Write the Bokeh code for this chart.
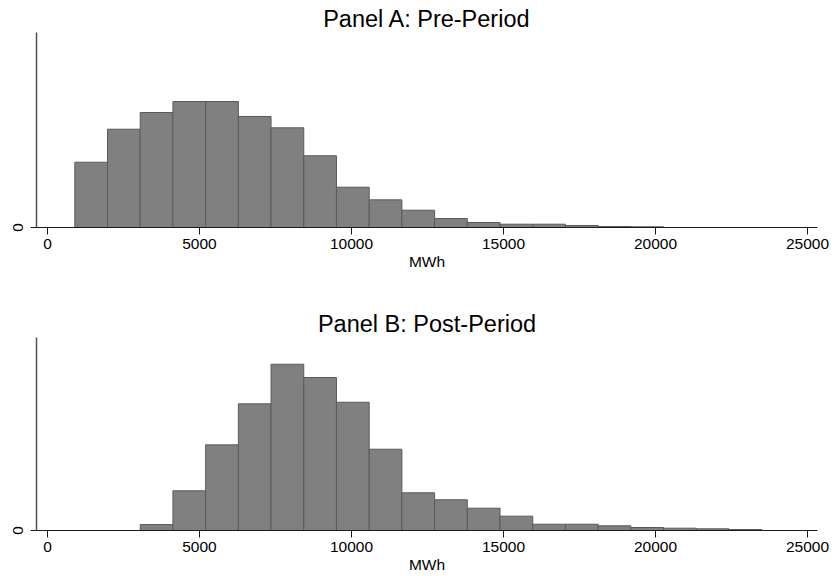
from bokeh.plotting import figure
from bokeh.models import Range1d, FixedTicker
from bokeh.layouts import column
from bokeh.embed import file_html
from bokeh.resources import INLINE

# ---- data ----
bin_width = 1076          # MWh per bin
pre_start = 898           # left edge of first Pre-Period bin
post_start = 3050         # left edge of first Post-Period bin
pre_density_e5 = [6.56, 9.88, 11.56, 12.66, 12.66, 11.16, 10.02, 7.21, 4.05, 2.78,
                  1.74, 0.90, 0.50, 0.33, 0.33, 0.20, 0.10, 0.07]
post_density_e5 = [0.60, 3.99, 8.61, 12.73, 16.71, 15.38, 12.89, 8.17, 3.79, 3.09,
                   2.24, 1.44, 0.63, 0.63, 0.47, 0.30, 0.23, 0.17, 0.10]
x_ticks = [0, 5000, 10000, 15000, 20000, 25000]
y_ticks = [0]
titles = ["Panel A: Pre-Period", "Panel B: Post-Period"]
x_label = "MWh"

X_MIN, X_MAX = -362, 25330
FONT = "Liberation Sans"


def make_panel(title, start, dens, height, border_top, border_bottom, y_max):
    left = [start + i * bin_width for i in range(len(dens))]
    right = [l + bin_width for l in left]
    top = [d * 1e-5 for d in dens]
    p = figure(width=832, height=height, output_backend="svg", toolbar_location=None,
               x_range=Range1d(X_MIN, X_MAX), y_range=Range1d(0, y_max),
               min_border_left=36, min_border_right=15,
               min_border_top=border_top, min_border_bottom=border_bottom)
    p.quad(left=left, right=right, top=top, bottom=0,
           fill_color="#808080", line_color="#5a5a5a", line_width=1)

    p.title.text = title
    p.title.align = "center"
    p.title.text_font = FONT
    p.title.text_font_size = "23.5px"
    p.title.text_font_style = "normal"
    p.title.text_color = "#000000"
    p.title.standoff = 2

    p.outline_line_color = None
    p.xgrid.grid_line_color = None
    p.ygrid.grid_line_color = None
    p.background_fill_color = "white"
    p.border_fill_color = "white"

    xa = p.xaxis[0]
    xa.ticker = FixedTicker(ticks=x_ticks)
    xa.axis_label = x_label
    xa.axis_label_text_font = FONT
    xa.axis_label_text_font_size = "15.5px"
    xa.axis_label_text_font_style = "normal"
    xa.axis_label_text_color = "#000000"
    xa.axis_label_standoff = 1
    xa.major_label_text_font = FONT
    xa.major_label_text_font_size = "15.5px"
    xa.major_label_text_color = "#000000"
    xa.major_label_standoff = 4
    xa.major_tick_out = 7
    xa.major_tick_in = 0
    xa.minor_tick_line_color = None
    xa.axis_line_color = "#1a1a1a"
    xa.axis_line_width = 1.2
    xa.major_tick_line_color = "#1a1a1a"

    ya = p.yaxis[0]
    ya.ticker = FixedTicker(ticks=y_ticks)
    ya.major_label_orientation = "vertical"
    ya.major_label_text_font = FONT
    ya.major_label_text_font_size = "15.5px"
    ya.major_label_text_color = "#000000"
    ya.major_label_standoff = 8
    ya.major_tick_out = 6
    ya.major_tick_in = 0
    ya.minor_tick_line_color = None
    ya.axis_line_color = "#505050"
    ya.axis_line_width = 1.5
    ya.major_tick_line_color = "#1a1a1a"
    return p


p1 = make_panel(titles[0], pre_start, pre_density_e5, 306, 32, 79, 1.96e-4)
p2 = make_panel(titles[1], post_start, post_density_e5, 270, 31, 46, 1.94e-4)

layout = column(p1, p2, spacing=0)
open("out.html", "w").write(file_html(layout, INLINE))
